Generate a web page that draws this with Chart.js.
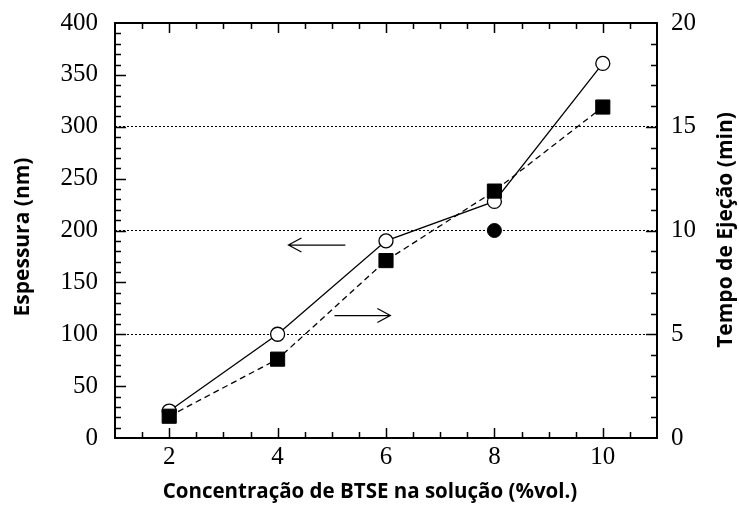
<!DOCTYPE html>
<html>
<head>
<meta charset="utf-8">
<script src="https://cdn.jsdelivr.net/npm/chart.js@4/dist/chart.umd.min.js"></script>
<style>
	html,body{margin:0;padding:0;background:#fff;}
	#wrap{width:739px;height:505px;position:relative;}
</style>
</head>
<body>
<div id="wrap"><canvas id="chart" width="739" height="505"></canvas></div>
<script>
// concentration of BTSE (%vol.)
const concentrations = [2, 4, 6, 8, 10];
// thickness (nm), left axis
const espessura = [26, 100, 190, 228, 361];
// ejection time (min), right axis
const tempoEjecao = [1.05, 3.8, 8.55, 11.9, 15.95];
// single filled circle at 8 %vol.
const extraPoint = [{x: 8, y: 200}];

const xTickLabels = [2, 4, 6, 8, 10];
const leftTicks = [0, 50, 100, 150, 200, 250, 300, 350, 400];
const rightTicks = [0, 5, 10, 15, 20];
const gridValues = [100, 200, 300];

// arrows in data units of x / left axis
const arrows = [
	{x0: 5.25, x1: 4.2, y: 186},
	{x0: 5.05, x1: 6.08, y: 118}
];

const serif = '"Liberation Serif", "Times New Roman", serif';
const sans = '"Open Sans", "Noto Sans", sans-serif';

function noPadding(s){
	s.paddingTop = 0; s.paddingBottom = 0;
	s.paddingLeft = 0; s.paddingRight = 0;
}

const framePlugin = {
	id: 'frame',
	afterDatasetsDraw(chart){
		const ctx = chart.ctx;
		const a = chart.chartArea;
		const x = chart.scales.x, y = chart.scales.y, y2 = chart.scales.y2;
		ctx.save();
		ctx.strokeStyle = '#000';
		ctx.lineWidth = 1.5;
		ctx.beginPath();
		// bottom / top ticks
		for(let v = 1.5; v < 11; v += 0.5){
			const px = Math.round(x.getPixelForValue(v)) + 0.5;
			const len = xTickLabels.includes(v) ? 10 : 6;
			ctx.moveTo(px, a.bottom); ctx.lineTo(px, a.bottom - len);
			ctx.moveTo(px, a.top); ctx.lineTo(px, a.top + len);
		}
		// left ticks
		for(let v = 10; v < 400; v += 10){
			const py = Math.round(y.getPixelForValue(v)) + 0.5;
			const len = v % 50 === 0 ? 11 : 6;
			ctx.moveTo(a.left, py); ctx.lineTo(a.left + len, py);
		}
		// right ticks
		for(let v = 1; v < 20; v += 1){
			const py = Math.round(y2.getPixelForValue(v)) + 0.5;
			const len = v % 5 === 0 ? 11 : 6;
			ctx.moveTo(a.right, py); ctx.lineTo(a.right - len, py);
		}
		ctx.stroke();

		ctx.lineWidth = 2;
		ctx.strokeRect(a.left, a.top, a.right - a.left, a.bottom - a.top);

		// arrows
		ctx.lineWidth = 1.2;
		for(const ar of arrows){
			const px0 = x.getPixelForValue(ar.x0);
			const px1 = x.getPixelForValue(ar.x1);
			const py = y.getPixelForValue(ar.y);
			const dir = px1 > px0 ? 1 : -1;
			ctx.beginPath();
			ctx.moveTo(px0, py); ctx.lineTo(px1, py);
			ctx.moveTo(px1 - dir * 13, py - 7); ctx.lineTo(px1, py); ctx.lineTo(px1 - dir * 13, py + 7);
			ctx.stroke();
		}

		// axis titles
		ctx.fillStyle = '#000';
		ctx.textAlign = 'center';
		ctx.textBaseline = 'middle';
		ctx.font = 'bold 20.5px ' + sans;
		ctx.fillText('Concentração de BTSE na solução (%vol.)', 370, 492);
		ctx.font = 'bold 21px ' + sans;
		ctx.save();
		ctx.translate(23, 237);
		ctx.rotate(-Math.PI / 2);
		ctx.fillText('Espessura (nm)', 0, 0);
		ctx.restore();
		ctx.save();
		ctx.translate(726, 230);
		ctx.rotate(-Math.PI / 2);
		ctx.fillText('Tempo de Ejeção (min)', 0, 0);
		ctx.restore();
		ctx.restore();
	}
};

new Chart(document.getElementById('chart'), {
	type: 'line',
	data: {
		datasets: [
			{
				label: 'Tempo de Ejeção',
				data: concentrations.map((c, i) => ({x: c, y: tempoEjecao[i]})),
				yAxisID: 'y2',
				borderColor: '#000',
				borderWidth: 1.3,
				borderDash: [6, 4],
				pointStyle: 'rect',
				pointRadius: 10,
				pointBackgroundColor: '#000',
				pointBorderColor: '#000',
				pointBorderWidth: 1
			},
			{
				label: 'Espessura',
				data: concentrations.map((c, i) => ({x: c, y: espessura[i]})),
				yAxisID: 'y',
				borderColor: '#000',
				borderWidth: 1.3,
				pointStyle: 'circle',
				pointRadius: 7,
				pointBackgroundColor: '#fff',
				pointBorderColor: '#000',
				pointBorderWidth: 1.3
			},
			{
				label: 'extra',
				data: extraPoint,
				yAxisID: 'y',
				showLine: false,
				pointStyle: 'circle',
				pointRadius: 7,
				pointBackgroundColor: '#000',
				pointBorderColor: '#000'
			}
		]
	},
	options: {
		responsive: false,
		animation: false,
		layout: {padding: {top: 23, left: 0, right: 0, bottom: 0}},
		plugins: {legend: {display: false}, tooltip: {enabled: false}},
		scales: {
			x: {
				type: 'linear', min: 1, max: 11,
				afterBuildTicks: s => { s.ticks = xTickLabels.map(v => ({value: v})); },
				afterFit: s => { s.height = 67; noPadding(s); },
				grid: {display: false, drawTicks: false},
				border: {display: false},
				ticks: {color: '#000', font: {family: serif, size: 25}, padding: 4}
			},
			y: {
				type: 'linear', position: 'left', min: 0, max: 400,
				afterBuildTicks: s => { s.ticks = leftTicks.map(v => ({value: v})); },
				afterFit: s => { s.width = 115; noPadding(s); },
				grid: {
					drawTicks: false,
					color: c => gridValues.includes(c.tick.value) ? '#000' : 'rgba(0,0,0,0)',
					lineWidth: 1
				},
				border: {display: false, dash: [2, 2]},
				ticks: {color: '#000', font: {family: serif, size: 25}, padding: 17}
			},
			y2: {
				type: 'linear', position: 'right', min: 0, max: 20,
				afterBuildTicks: s => { s.ticks = rightTicks.map(v => ({value: v})); },
				afterFit: s => { s.width = 82; noPadding(s); },
				grid: {display: false, drawTicks: false},
				border: {display: false},
				ticks: {color: '#000', font: {family: serif, size: 25}, padding: 14}
			}
		}
	},
	plugins: [framePlugin]
});
</script>
</body>
</html>
